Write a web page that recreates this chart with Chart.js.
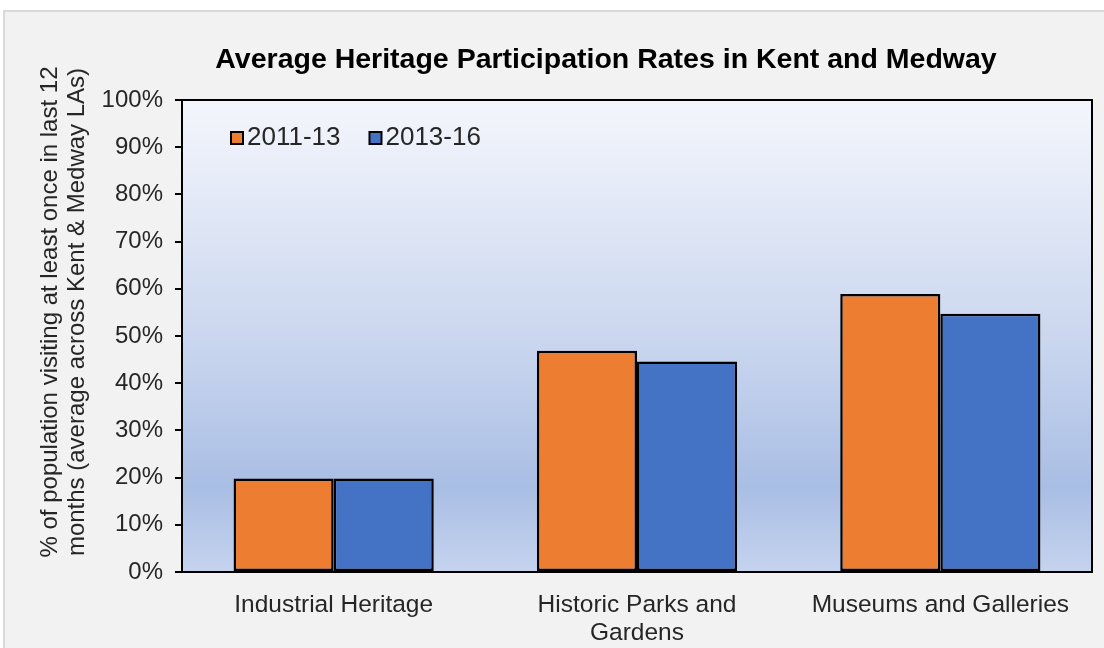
<!DOCTYPE html>
<html>
<head>
<meta charset="utf-8">
<script src="https://cdn.jsdelivr.net/npm/chart.js@4"></script>
<style>
  html, body { margin: 0; padding: 0; background: #fff; overflow: hidden; }
  #wrap { position: absolute; left: 0; top: 0; width: 1104px; height: 648px; }
</style>
</head>
<body>
<div id="wrap"><canvas id="heritageChart" width="1104" height="648"></canvas></div>
<script>
var categories = ["Industrial Heritage", ["Historic Parks and", "Gardens"], "Museums and Galleries"];
var seriesNames = ["2011-13", "2013-16"];
var rates2011 = [19.8, 46.9, 58.9];
var rates2013 = [19.8, 44.6, 54.7];
var yTicks = [0, 10, 20, 30, 40, 50, 60, 70, 80, 90, 100];

var chartTitle = "Average Heritage Participation Rates in Kent and Medway";
var yTitle = ["% of population visiting at least once in last 12", "months (average across Kent & Medway LAs)"];

var textColor = "#262626";
var font = "Arial, 'Liberation Sans', sans-serif";

// panel background, plot gradient and frame
const backdrop = {
  id: 'backdrop',
  beforeDraw(chart) {
    const c = chart.ctx;
    const a = chart.chartArea;
    c.save();
    c.fillStyle = '#ffffff';
    c.fillRect(0, 0, chart.width, chart.height);
    c.fillStyle = '#f2f2f2';
    c.fillRect(4, 11, chart.width - 4, chart.height - 11);
    c.strokeStyle = '#d9d9d9';
    c.lineWidth = 2;
    c.beginPath();
    c.moveTo(4, chart.height);
    c.lineTo(4, 11);
    c.lineTo(chart.width, 11);
    c.stroke();
    const g = c.createLinearGradient(0, a.top, 0, a.bottom);
    g.addColorStop(0, '#f4f6fc');
    g.addColorStop(0.5, '#cbd7ef');
    g.addColorStop(0.82, '#a9bee4');
    g.addColorStop(1, '#c5d3ee');
    c.fillStyle = g;
    c.fillRect(a.left, a.top, a.right - a.left, a.bottom - a.top);
    c.restore();
  },
  afterDraw(chart) {
    const c = chart.ctx;
    const a = chart.chartArea;
    c.save();
    c.strokeStyle = '#000';
    c.lineWidth = 2;
    c.strokeRect(a.left, a.top, a.right - a.left, a.bottom - a.top);

    // title
    c.fillStyle = '#000';
    c.font = "bold 28.5px " + font;
    c.textAlign = 'center';
    c.textBaseline = 'middle';
    c.fillText(chartTitle, 606, 60);

    // y axis title
    c.fillStyle = textColor;
    c.font = "24px " + font;
    c.translate(50, 312);
    c.rotate(-Math.PI / 2);
    c.fillText(yTitle[0], 0, 0);
    c.fillText(yTitle[1], 0, 27);
    c.restore();

    // legend inside plot
    c.save();
    c.font = "26px " + font;
    c.textBaseline = 'middle';
    c.textAlign = 'left';
    let x = a.left + 49;
    const y = 138;
    chart.data.datasets.forEach(function(ds) {
      c.fillStyle = ds.backgroundColor;
      c.fillRect(x, y - 6, 12, 12);
      c.strokeStyle = '#000';
      c.lineWidth = 2;
      c.strokeRect(x, y - 6, 12, 12);
      c.fillStyle = textColor;
      c.fillText(ds.label, x + 16, y);
      x += 16 + c.measureText(ds.label).width + 29;
    });
    c.restore();
  }
};

var ctx = document.getElementById("heritageChart").getContext('2d');

var myChart = new Chart(ctx, {
  type: 'bar',
  data: {
    labels: categories,
    datasets: [{
      label: seriesNames[0],
      data: rates2011,
      backgroundColor: "#ED7D31",
      borderColor: "#000",
      borderWidth: 2.5,
      borderSkipped: false
    }, {
      label: seriesNames[1],
      data: rates2013,
      backgroundColor: "#4472C4",
      borderColor: "#000",
      borderWidth: 2.5,
      borderSkipped: false
    }]
  },
  options: {
    responsive: false,
    animation: false,
    devicePixelRatio: 1,
    layout: {
      padding: { left: 0, right: 12, top: 100, bottom: 0 }
    },
    datasets: {
      bar: { categoryPercentage: 0.66, barPercentage: 1.0 }
    },
    scales: {
      x: {
        grid: { display: false, drawTicks: false },
        border: { display: true, color: '#000', width: 2 },
        ticks: {
          color: textColor,
          padding: 20,
          maxRotation: 0,
          autoSkip: false,
          font: { family: font, size: 24.5, lineHeight: 1.12 }
        },
        afterFit: function(scale) { scale.height = 76; }
      },
      y: {
        min: 0,
        max: 100,
        afterBuildTicks: function(scale) {
          scale.ticks = yTicks.map(function(v) { return { value: v }; });
        },
        grid: { drawOnChartArea: false, drawTicks: true, tickLength: 7, color: '#000', lineWidth: 2 },
        border: { display: true, color: '#000', width: 2 },
        ticks: {
          color: textColor,
          padding: 12,
          font: { family: font, size: 24 },
          callback: function(v) { return v + '%'; }
        },
        afterFit: function(scale) { scale.width = 182; }
      }
    },
    plugins: {
      legend: { display: false },
      title: { display: false },
      tooltip: { enabled: false }
    }
  },
  plugins: [backdrop]
});
</script>
</body>
</html>
